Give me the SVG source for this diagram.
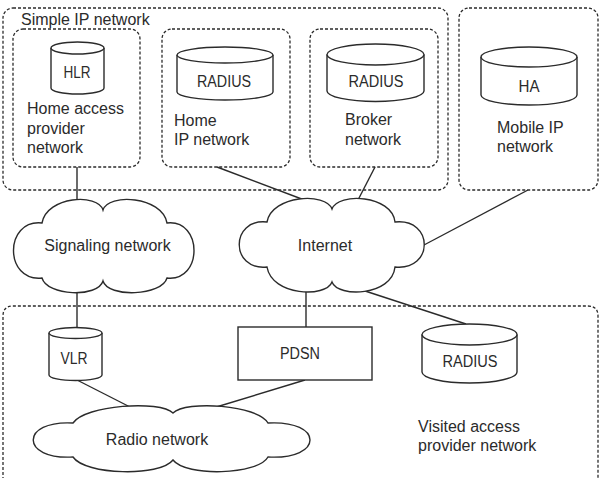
<svg xmlns="http://www.w3.org/2000/svg" width="604" height="478" viewBox="0 0 604 478">
  <style>
    .zone { fill: none; stroke: #2b2b2b; stroke-width: 1.3; stroke-dasharray: 3 2; }
    .shape { fill: #ffffff; stroke: #2b2b2b; stroke-width: 1.4; }
    .wire { fill: none; stroke: #2b2b2b; stroke-width: 1.4; }
    text { font-family: "Liberation Sans", Arial, sans-serif; font-size: 16px; fill: #2b2b2b; }
    .cap { font-size: 16px; text-anchor: middle; }
    .mid { text-anchor: middle; }
  </style>
  <rect width="604" height="478" fill="#ffffff"/>

  <!-- network zones -->
  <g id="simple-ip-network">
    <rect class="zone" x="3" y="8" width="445" height="182" rx="10"/>
    <text x="21" y="25">Simple IP network</text>
  </g>
  <g id="visited-access-network">
    <path class="zone" d="M3,490 L3,316 Q3,306 13,306 L588,306 Q598,306 598,316 L598,490"/>
    <text x="418" y="432">Visited access</text>
    <text x="418" y="451">provider network</text>
  </g>

  <!-- connectors -->
  <g id="connectors">
    <line class="wire" x1="77" y1="167" x2="77" y2="201"/>
    <line class="wire" x1="217" y1="167" x2="307" y2="201"/>
    <line class="wire" x1="375" y1="167" x2="358" y2="200"/>
    <line class="wire" x1="528" y1="190" x2="424" y2="245"/>
    <line class="wire" x1="77" y1="289" x2="77" y2="329"/>
    <line class="wire" x1="306" y1="290" x2="306" y2="327"/>
    <line class="wire" x1="359" y1="289" x2="466" y2="324"/>
    <line class="wire" x1="77" y1="380" x2="132" y2="408"/>
    <line class="wire" x1="305" y1="380" x2="213" y2="408"/>
  </g>

  <!-- home access provider network -->
  <g id="home-access-provider">
    <rect class="zone" x="13" y="29" width="127" height="138" rx="10"/>
    <text x="27" y="114">Home access</text>
    <text x="27" y="133.5">provider</text>
    <text x="27" y="153">network</text>
  </g>
  <g id="hlr">
    <path class="shape" d="M51,48 L51,88 A26.5,6 0 0 0 104,88 L104,48"/>
    <ellipse class="shape" cx="77.5" cy="48" rx="26.5" ry="6"/>
    <text class="cap" x="77" y="78" textLength="27" lengthAdjust="spacingAndGlyphs">HLR</text>
  </g>

  <!-- home IP network -->
  <g id="home-ip-network">
    <rect class="zone" x="162" y="29" width="128" height="138" rx="10"/>
    <text x="174" y="126">Home</text>
    <text x="174" y="145">IP network</text>
  </g>
  <g id="home-radius">
    <path class="shape" d="M177,55 L177,92 A48,8 0 0 0 273,92 L273,55"/>
    <ellipse class="shape" cx="225" cy="55" rx="48" ry="8"/>
    <text class="cap" x="224" y="86.5" textLength="54" lengthAdjust="spacingAndGlyphs">RADIUS</text>
  </g>

  <!-- broker network -->
  <g id="broker-network">
    <rect class="zone" x="310" y="29" width="128" height="138" rx="10"/>
    <text x="345" y="125">Broker</text>
    <text x="345" y="145">network</text>
  </g>
  <g id="broker-radius">
    <path class="shape" d="M327,54.5 L327,91 A48.5,10.5 0 0 0 424,91 L424,54.5"/>
    <ellipse class="shape" cx="375.5" cy="54.5" rx="48.5" ry="10.5"/>
    <text class="cap" x="376" y="86.5" textLength="55" lengthAdjust="spacingAndGlyphs">RADIUS</text>
  </g>

  <!-- mobile IP network -->
  <g id="mobile-ip-network">
    <rect class="zone" x="459" y="8" width="139" height="182" rx="10"/>
    <text x="497" y="133">Mobile IP</text>
    <text x="497" y="152">network</text>
  </g>
  <g id="ha">
    <path class="shape" d="M481,57 L481,95 A48,10 0 0 0 577,95 L577,57"/>
    <ellipse class="shape" cx="529" cy="57" rx="48" ry="10"/>
    <text class="cap" x="529" y="91.5" textLength="21" lengthAdjust="spacingAndGlyphs">HA</text>
  </g>

  <!-- clouds -->
  <g id="signaling-network">
    <path class="shape" d="M42,223 C47,196 98,193 103,210 C108,193 162,196 167,223 C203,219 203,282 167,278 C162,296 108,298 103,281 C98,298 47,296 42,278 C4,282 4,219 42,223 Z"/>
    <text class="mid" x="107.5" y="251">Signaling network</text>
  </g>
  <g id="internet">
    <path class="shape" d="M267,222 C272,195 326,192 332,209 C338,192 392,195 395,222 C434,218 434,271 395,267 C392,296 338,298 332,282 C326,298 272,296 267,267 C230,271 230,218 267,222 Z"/>
    <text class="mid" x="325" y="251">Internet</text>
  </g>
  <g id="radio-network">
    <path class="shape" d="M73,423 C85,405 160,400 173,413 C186,400 258,405 268,423 C324,420 324,460 268,457 C258,475 186,477 173,460 C160,477 85,475 73,457 C20,460 20,420 73,423 Z"/>
    <text class="mid" x="157" y="445">Radio network</text>
  </g>

  <!-- visited access provider elements -->
  <g id="vlr">
    <path class="shape" d="M49,333 L49,375 A26.5,5.5 0 0 0 102,375 L102,333"/>
    <ellipse class="shape" cx="75.5" cy="333" rx="26.5" ry="5.5"/>
    <text class="cap" x="74" y="363.5" textLength="27" lengthAdjust="spacingAndGlyphs">VLR</text>
  </g>
  <g id="pdsn">
    <rect class="shape" x="238" y="327" width="134" height="53"/>
    <text class="cap" x="300" y="358.5" textLength="40" lengthAdjust="spacingAndGlyphs">PDSN</text>
  </g>
  <g id="visited-radius">
    <path class="shape" d="M422,334.5 L422,372 A47.5,11 0 0 0 517,372 L517,334.5"/>
    <ellipse class="shape" cx="469.5" cy="334.5" rx="47.5" ry="10.5"/>
    <text class="cap" x="470" y="367" textLength="55" lengthAdjust="spacingAndGlyphs">RADIUS</text>
  </g>
</svg>
